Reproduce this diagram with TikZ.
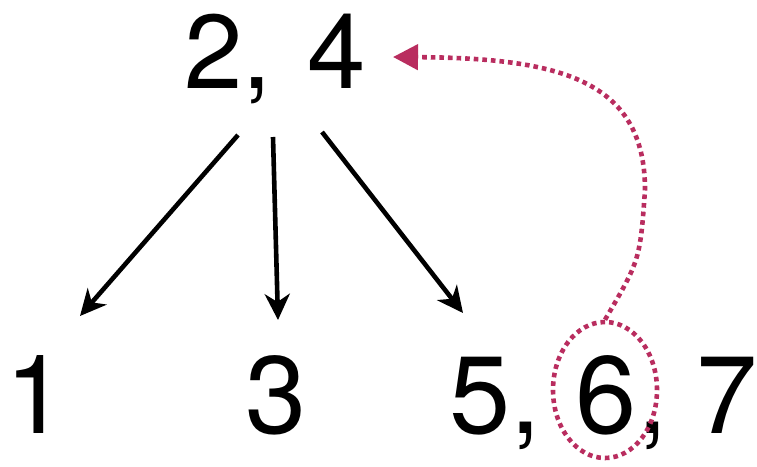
\documentclass[tikz,border=0pt]{standalone}
\usepackage{fontspec}
\setmainfont{TeX Gyre Heros}
\usetikzlibrary{arrows.meta,shapes.geometric,calc}
\definecolor{mag}{RGB}{185,45,95}
\begin{document}
\begin{tikzpicture}[x=1pt,y=-1pt,
  numtop/.style={inner sep=0pt,anchor=base west,font=\fontsize{105}{105}\selectfont},
  numbot/.style={inner sep=0pt,anchor=base west,font=\fontsize{110}{110}\selectfont},
  tree/.style={line width=4.6pt,-{Stealth[length=26pt,width=25pt,inset=8pt]}},
  dots/.style={draw=mag,line width=4.6pt,dash pattern=on 4.6pt off 4pt},
  back/.style={dots,-{Triangle[length=25pt,width=25pt,fill=mag]}}]
\useasboundingbox (0,0) rectangle (757,466);
\node[numtop] (top) at (184,88) {2,\hspace{6.5pt} 4};
\node[numbot] (one) at (5,433) {1};
\node[numbot] (three) at (245,433) {3};
\node[numbot] (rest) at (449,433) {5,\hspace{4.5pt} 6,\hspace{-2pt} 7};
\node[dots,ellipse,minimum width=104pt,minimum height=136pt,inner sep=0pt] (circ) at (605,390) {};
\draw[tree] ($(top.base west)+(54,47)$) -- ($(one.base west)+(75,-117)$);
\draw[tree] ($(top.base west)+(89,49)$) -- ($(three.base west)+(33,-113)$);
\draw[tree] ($(top.base west)+(138,44)$) -- ($(rest.base west)+(14,-120)$);
\draw[back] (circ.north) .. controls (640,260) .. (645,190)
  .. controls (645,80) and (560,58) .. ($(top.base west)+(209,-31)$);
\end{tikzpicture}
\end{document}
